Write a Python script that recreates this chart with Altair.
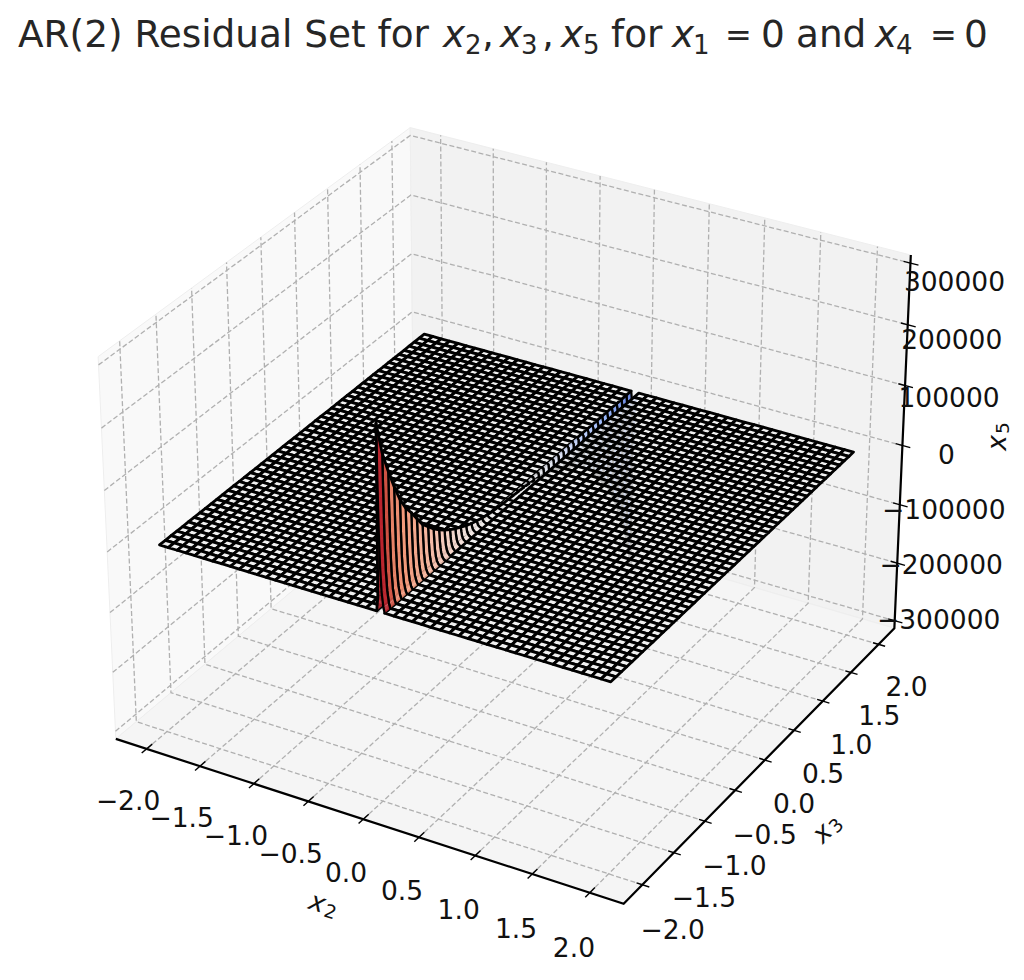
import numpy as np
import altair as alt

# ---------- data ----------
title_main = "AR(2) Residual Set for"
x2_ticks = [-2.0, -1.5, -1.0, -0.5, 0.0, 0.5, 1.0, 1.5, 2.0]
x3_ticks = [-2.0, -1.5, -1.0, -0.5, 0.0, 0.5, 1.0, 1.5, 2.0]
x5_ticks = [-300000, -200000, -100000, 0, 100000, 200000, 300000]
grid_n = 50
# x5 at the crest near x2 = 0, one value per x3 grid step (thousands)
ridge_k = [298, 244, 209, 177, 149, 128, 113, 96, 79, 68, 57, 48, 40, 33, 27, 22, 17, 13, 10, 7,
           5, 3, 2, 1, 0.3, -0.3, -1, -2, -3, -5, -7, -10, -13, -17, -22, -27, -33, -40, -48, -57,
           -68, -79, -96, -113, -128, -149, -177, -209, -244, -298]
# how the crest falls away across the x2 = 0 cell
crest_x2 = [-0.03, -0.018, -0.011, -0.006, -0.001, 0.006, 0.016, 0.03, 0.0408]
crest_frac = [0.0, 0.08, 1.0, 0.66, 0.42, 0.24, 0.11, 0.03, 0.0]
# colour level of the crest cells, as seen along x3
rib_level = [0.95, 0.8, 0.6, 0.55, 0.5, 0.46, 0.42, 0.38, 0.34, 0.3, 0.26, 0.22, 0.18, 0.14, 0.11, 0.08, 0.06,
             0.04, 0.03, 0.02, 0.01, 0.01, 0.0, 0.0, 0.0, 0.0, 0.0, -0.01, -0.02, -0.03, -0.04, -0.06, -0.08,
             -0.11, -0.14, -0.18, -0.22, -0.26, -0.3, -0.34, -0.38, -0.42, -0.46, -0.5, -0.55, -0.6, -0.65,
             -0.7, -0.75]

# ---------- view ----------
L = 2.2 * (1 + 1 / 24)
ZL = 313000.0
W, H = 1008, 964

def view_xy(p):
    """matplotlib's default 3D view (elev 30, azim -60, box 4:4:3)."""
    p = np.asarray(p, float)
    box = np.array([4, 4, 3.0]) * 1.8294 / np.linalg.norm([4, 4, 3])
    u = (p + np.array([L, L, ZL])) / np.array([2 * L, 2 * L, 2 * ZL]) * box
    el, az = np.radians(30), np.radians(-60)
    R = box / 2
    eye = R + 10 * np.array([np.cos(el) * np.cos(az), np.cos(el) * np.sin(az), np.sin(el)])
    w = (eye - R) / np.linalg.norm(eye - R)
    v = np.array([0, 0, 1.0])
    a = np.cross(v, w); a /= np.linalg.norm(a)
    b = np.cross(w, a)
    d = u - eye
    dep = -(d @ w)
    return np.stack([(d @ a) * 10 / dep, (d @ b) * 10 / dep, dep], -1)

anch3 = [(-L, -L, -ZL), (L, -L, -ZL), (L, L, -ZL), (L, L, ZL), (-L, L, ZL), (-L, -L, ZL)]
anch2 = np.array([(115, 738), (625, 905), (893, 628), (911, 255), (411, 129), (98, 355)], float) - 8
v = view_xy(anch3)
A = np.stack([v[:, 0], np.ones(6)], 1)
fx = np.linalg.lstsq(A, anch2[:, 0], rcond=None)[0]
A = np.stack([v[:, 1], np.ones(6)], 1)
fy = np.linalg.lstsq(A, anch2[:, 1], rcond=None)[0]

def proj(x, y, z):
    t = view_xy((x, y, z))
    return [round(float(fx[0] * t[0] + fx[1]), 2), round(float(fy[0] * t[1] + fy[1]), 2), float(t[2])]

def poly(pts, **props):
    c = [proj(*p)[:2] for p in pts]
    return {"type": "Feature", "properties": props,
            "geometry": {"type": "Polygon", "coordinates": [c + [c[0]]]}}

def line(pts, **props):
    return {"type": "Feature", "properties": props,
            "geometry": {"type": "LineString", "coordinates": [proj(*p)[:2] for p in pts]}}

PROJ = dict(type="identity", scale=1, translate=[0, 0])

def geo_layer(feats, **mark):
    return alt.Chart(alt.Data(values=feats)).mark_geoshape(**mark).project(**PROJ)

# ---------- panes, grid ----------
pane_left = poly([(-L, -L, -ZL), (-L, L, -ZL), (-L, L, ZL), (-L, -L, ZL)])
pane_back = poly([(-L, L, -ZL), (L, L, -ZL), (L, L, ZL), (-L, L, ZL)])
pane_floor = poly([(-L, -L, -ZL), (L, -L, -ZL), (L, L, -ZL), (-L, L, -ZL)])
grid = []
for t in x2_ticks:
    grid.append(line([(t, -L, -ZL), (t, L, -ZL), (t, L, ZL)]))
for t in x3_ticks:
    grid.append(line([(L, t, -ZL), (-L, t, -ZL), (-L, t, ZL)]))
for t in x5_ticks:
    grid.append(line([(-L, -L, t), (-L, L, t), (L, L, t)]))

axes = [line([(-L, -L, -ZL), (L, -L, -ZL), (L, L, -ZL), (L, L, ZL)])]
ticks = []
for t in x2_ticks:
    ticks.append(line([(t, -L - 0.07, -ZL), (t, -L + 0.08, -ZL)]))
for t in x3_ticks:
    ticks.append(line([(L - 0.05, t, -ZL), (L + 0.06, t, -ZL)]))
for t in x5_ticks:
    ticks.append(line([(L - 0.06, L, t), (L + 0.07, L, t)]))

# ---------- surface ----------
gy = [-2 + 4 * i / (grid_n - 1) for i in range(grid_n)]
gx = list(gy)
crest_row = 24
gx[crest_row] = crest_x2[0]
LW = 2.85
RIB_LW = 2.3

def curve(j):
    return [(p, gy[j], ridge_k[j] * 1000.0 * f) for p, f in zip(crest_x2, crest_frac)]

def outline(c, j):
    """Only the flank that faces the viewer gets a drawn cross-section."""
    part = c[2:] if ridge_k[j] > 0 else c[:3]
    return poly(part + part[::-1], level=0, sw=RIB_LW, fo=0)

cells = []
seq = 0
for i in range(grid_n - 1):
    for j in range(grid_n - 1):
        if i == crest_row:
            a, b = curve(j), curve(j + 1)
            dep = np.mean([proj(*p)[2] for p in a + b])
            parts = [poly([a[k], a[k + 1], b[k + 1], b[k]], level=rib_level[j], sw=0, fo=0.9)
                     for k in range(len(a) - 1)]
            parts.append(outline(a, j))
            parts.append(outline(b, j + 1))
            parts.append(poly([a[2], b[2]], level=0, sw=LW, fo=0))
            if j == 0:
                parts.append(poly(a[:3] + a[:3][::-1], level=0, sw=LW, fo=0))
            for part in parts:
                cells.append((dep, seq, part))
                seq += 1
        else:
            c = [(gx[i], gy[j], 0.0), (gx[i + 1], gy[j], 0.0), (gx[i + 1], gy[j + 1], 0.0), (gx[i], gy[j + 1], 0.0)]
            dep = np.mean([proj(*p)[2] for p in c])
            cells.append((dep, seq, poly(c, level=0.0, sw=LW, fo=0.8)))
            seq += 1
cells.sort(key=lambda k: (-k[0], k[1]))
cells = [c[2] for c in cells]

surface = geo_layer(cells, stroke="black", strokeJoin="round").encode(
    fill=alt.Color("properties.level:Q", legend=None,
                   scale=alt.Scale(domain=[-1, -0.5, 0, 0.5, 1],
                                   range=["#3b4cc0", "#8db0fe", "#efefef", "#f49a7b", "#b40426"])),
    strokeWidth=alt.StrokeWidth("properties.sw:Q", legend=None,
                                scale=alt.Scale(domain=[0, LW], range=[0, LW])),
    fillOpacity=alt.FillOpacity("properties.fo:Q", legend=None,
                                scale=alt.Scale(domain=[0, 1], range=[0, 1])),
)

# ---------- text ----------
fmt1 = lambda t: f"{t:.1f}".replace("-", "\u2212")
fmt0 = lambda t: f"{t:d}".replace("-", "\u2212")

labels = []
for t in x2_ticks:
    p = proj(t - 0.07, -L - 0.62, -ZL)
    labels.append({"lon": p[0] + 33, "lat": p[1] + 18, "label": fmt1(t)})
for t in x3_ticks:
    p = proj(L + 0.45, t - 0.05, -ZL)
    labels.append({"lon": p[0] - 19, "lat": p[1] + 26.5, "label": fmt1(t)})
for t in x5_ticks:
    p = proj(L, L, t)
    labels.append({"lon": p[0] + 44, "lat": p[1] + 10 + 10 * t / 300000, "label": fmt0(t)})

def text_layer(rows, color="#111111", **mk):
    return alt.Chart(alt.Data(values=rows)).mark_text(font="DejaVu Sans", color=color, **mk).encode(
        longitude="lon:Q", latitude="lat:Q", text="label:N").project(**PROJ)

tick_text = text_layer(labels, fontSize=26.5, align="center", baseline="middle")

T, S, BL, SB = 37.4, 26, 47, 54
title_parts = [
    (title_main, 18, BL, T, "normal"),
    ("x", 443, BL, T, "italic"),
    ("2", 465, SB, S, "normal"),
    (",", 482, BL, T, "normal"),
    ("x", 500, BL, T, "italic"),
    ("3", 521, SB, S, "normal"),
    (",", 542, BL, T, "normal"),
    ("x", 561, BL, T, "italic"),
    ("5", 583, SB, S, "normal"),
    ("for", 611, BL, T, "normal"),
    ("x", 672, BL, T, "italic"),
    ("1", 693, SB, S, "normal"),
    ("=", 725, BL - 1, 32, "normal"),
    ("0", 761, BL, T, "normal"),
    ("and", 796, BL, T, "normal"),
    ("x", 875, BL, T, "italic"),
    ("4", 896, SB, S, "normal"),
    ("=", 930, BL - 1, 32, "normal"),
    ("0", 964, BL, T, "normal"),
]
title_layers = [
    text_layer([{"lon": x - 8, "lat": y - 8, "label": s}], color="#262626", fontSize=fs, fontStyle=st,
               align="left", baseline="alphabetic")
    for s, x, y, fs, st in title_parts
]

ax_labels = []
for sym, sub, cx, cy, ang in [("x", "2", 323, 905, 18), ("x", "3", 827, 829, 315), ("x", "5", 998, 437, 270)]:
    rad = np.radians(ang)
    ax_labels.append(text_layer([{"lon": cx - 8 - 6 * np.cos(rad), "lat": cy - 8 - 6 * np.sin(rad), "label": sym}],
                                fontSize=26.5, fontStyle="italic", angle=ang, align="center", baseline="middle"))
    ax_labels.append(text_layer([{"lon": cx - 8 + 9 * np.cos(rad) - 4.5 * np.sin(rad),
                                  "lat": cy - 8 + 9 * np.sin(rad) + 4.5 * np.cos(rad), "label": sub}],
                                fontSize=18.5, angle=ang, align="center", baseline="middle"))

layers = [
    geo_layer([pane_left], stroke="#eeeeee", strokeWidth=1, fill="#f9f9f9"),
    geo_layer([pane_back], stroke="#eeeeee", strokeWidth=1, fill="#f2f2f2"),
    geo_layer([pane_floor], stroke="#eeeeee", strokeWidth=1, fill="#f5f5f5"),
    geo_layer(grid, filled=False, stroke="#b0b0b0", strokeWidth=1.3, strokeDash=[5, 2.5]),
    geo_layer(axes, filled=False, stroke="black", strokeWidth=2.2),
    geo_layer(ticks, filled=False, stroke="black", strokeWidth=1.4),
    surface,
    tick_text,
] + ax_labels + title_layers

chart = alt.layer(*layers).properties(
    width=W, height=H, padding=0, autosize=alt.AutoSizeParams(type="none")
).resolve_scale(fill="independent", strokeWidth="independent", fillOpacity="independent"
).configure_view(stroke=None)
chart.save("out.html", embed_options={"renderer": "svg", "actions": False})
